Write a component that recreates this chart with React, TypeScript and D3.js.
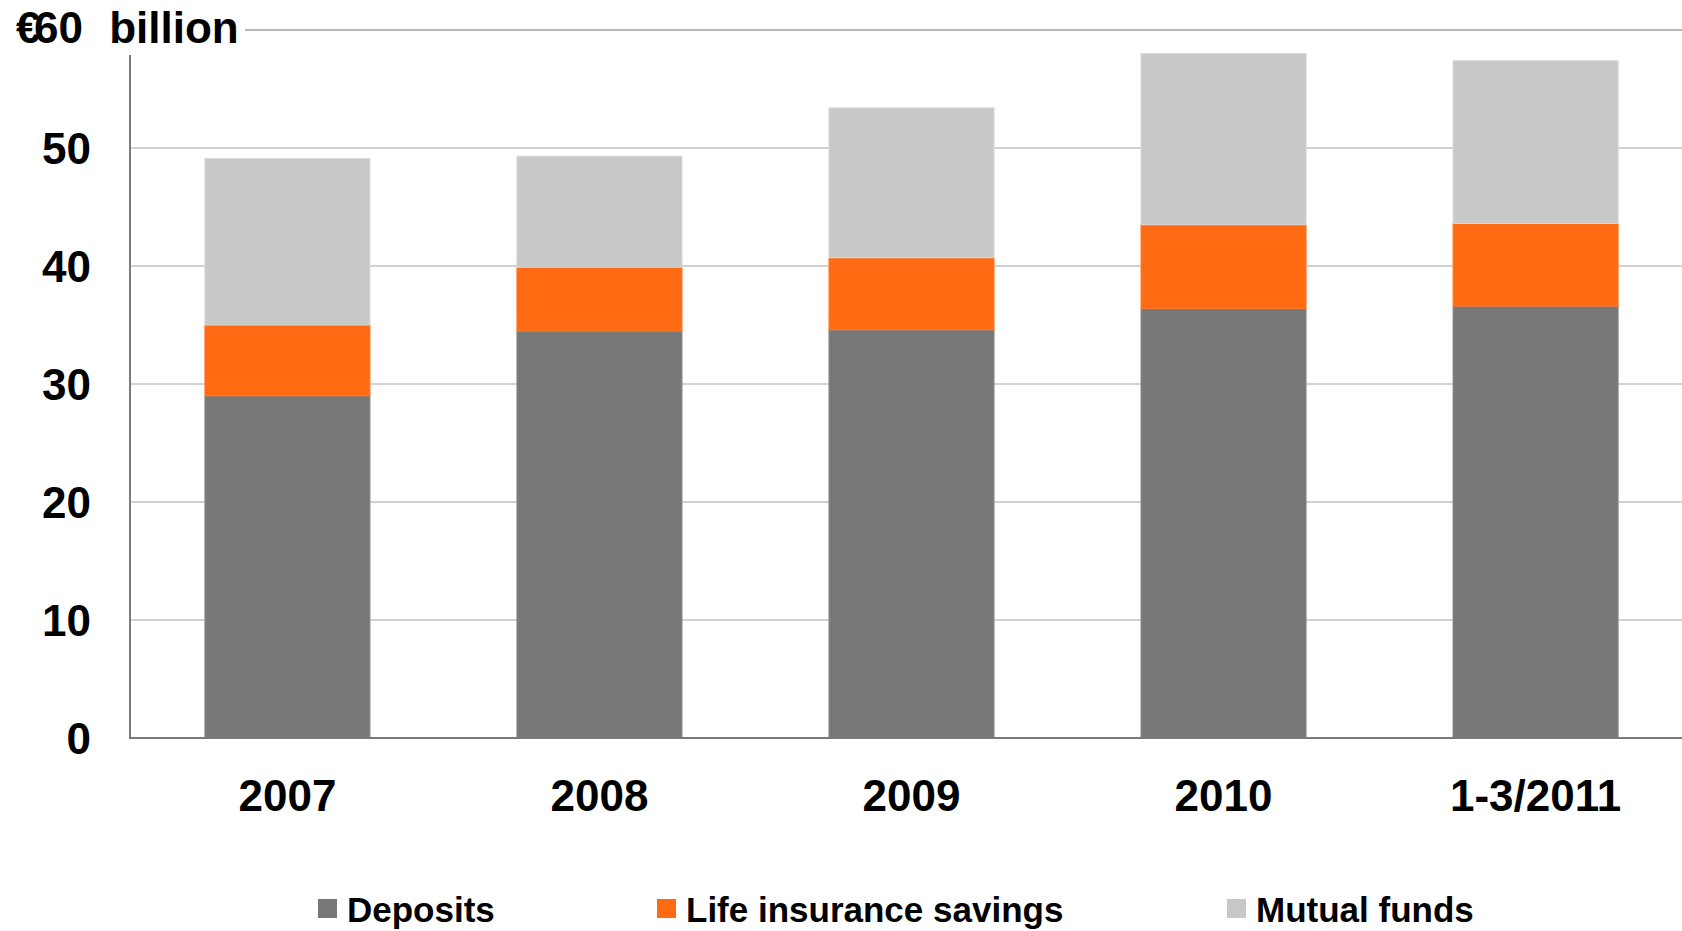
import React from "react";
import * as d3 from "d3";

const categories = ["2007", "2008", "2009", "2010", "1-3/2011"];
const deposits = [29.0, 34.5, 34.6, 36.4, 36.6];
const lifeInsurance = [6.0, 5.4, 6.1, 7.1, 7.0];
const mutualFunds = [14.1, 9.4, 12.7, 14.5, 13.8];
const yTicks = [0, 10, 20, 30, 40, 50];
const seriesNames = ["Deposits", "Life insurance savings", "Mutual funds"];
const seriesColors = ["#787878", "#FF6A13", "#C8C8C8"];
const seriesStrokes = ["#8a8a8a", "#FF7A2a", "#d8d8d8"];
const legendX = [318, 657, 1227];

const W = 1682;
const H = 931;
const FONT = "'Liberation Sans', Arial, Helvetica, sans-serif";

export default function App() {
  const x = d3
    .scaleBand<string>()
    .domain(categories)
    .range([130, 1693])
    .paddingInner(0.471)
    .paddingOuter(0.24);
  const y = d3.scaleLinear().domain([0, 60]).range([738, 30]);

  const rows = categories.map((c, i) => ({
    cat: c,
    Deposits: deposits[i],
    "Life insurance savings": lifeInsurance[i],
    "Mutual funds": mutualFunds[i],
  }));
  const stacked = d3.stack<any>().keys(seriesNames)(rows);

  return (
    <svg
      width={W}
      height={H}
      style={{ position: "absolute", left: 0, top: 0, background: "#fff" }}
      fontFamily={FONT}
      fontWeight="bold"
    >
      {/* gridlines */}
      {yTicks.filter((t) => t > 0).map((t) => (
        <line
          key={t}
          x1={130}
          x2={W}
          y1={y(t)}
          y2={y(t)}
          stroke="#d2d2d2"
          strokeWidth={2}
        />
      ))}
      {/* top line at 60 */}
      <line x1={245} x2={W} y1={y(60)} y2={y(60)} stroke="#a0a0a0" strokeWidth={1.5} />

      {/* bars */}
      {stacked.map((s, si) => (
        <g key={s.key}>
          {s.map((d, i) => (
            <rect
              key={i}
              x={x(categories[i])}
              y={y(d[1])}
              width={x.bandwidth()}
              height={y(d[0]) - y(d[1])}
              fill={seriesColors[si]}
              stroke={seriesStrokes[si]}
              strokeWidth={1}
            />
          ))}
        </g>
      ))}

      {/* axes */}
      <line x1={130} x2={130} y1={55} y2={y(0)} stroke="#7a7a7a" strokeWidth={2} />
      <line x1={129} x2={W} y1={y(0)} y2={y(0)} stroke="#7a7a7a" strokeWidth={2} />

      {/* y tick labels */}
      {yTicks.map((t) => (
        <text
          key={t}
          x={91}
          y={y(t) + 16}
          textAnchor="end"
          fontSize={44}
          fill="#000"
        >
          {t}
        </text>
      ))}

      {/* title */}
      <text x={16} y={43} dx="0 -6.5 0 0 14" fontSize={44} fill="#000">
        €60 billion
      </text>

      {/* x labels */}
      {categories.map((c) => (
        <text
          key={c}
          x={(x(c) as number) + x.bandwidth() / 2}
          y={811}
          textAnchor="middle"
          fontSize={44}
          fill="#000"
        >
          {c}
        </text>
      ))}

      {/* legend */}
      {seriesNames.map((n, i) => (
        <g key={n}>
          <rect x={legendX[i]} y={899} width={19} height={19} fill={seriesColors[i]} />
          <text x={legendX[i] + 29} y={922} fontSize={35} fill="#000">
            {n}
          </text>
        </g>
      ))}
    </svg>
  );
}
